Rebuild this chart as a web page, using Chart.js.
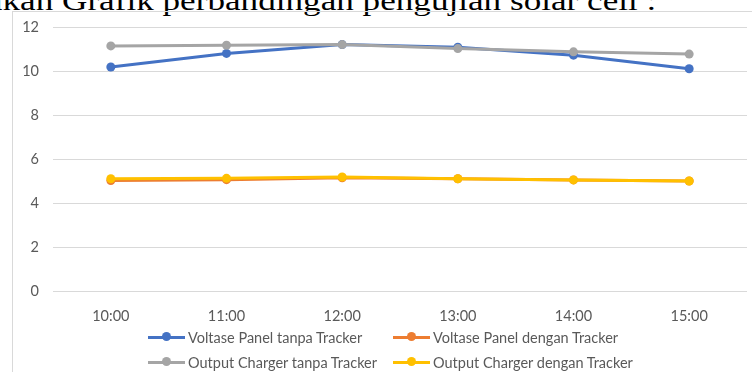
<!DOCTYPE html>
<html>
<head>
<meta charset="utf-8">
<script src="https://cdn.jsdelivr.net/npm/chart.js@4"></script>
<style>
  body { margin: 0; background: #fff; width: 752px; height: 372px; overflow: hidden; position: relative; }
  .caption { position: absolute; left: 62px; top: -13px; font-family: "Liberation Serif", serif; font-size: 28px; line-height: 1; color: #000; white-space: nowrap; transform-origin: 0 0; }
  .caption .pre { position: absolute; right: 100%; white-space: pre; }
  .frame { position: absolute; left: 12px; top: 11px; width: 800px; height: 400px; border: 1px solid #d9d9d9; }
  #chart { position: absolute; left: 0; top: 0; }
  #legend { position: absolute; left: 148px; top: 325px; display: grid; grid-template-columns: 245px 245px; row-gap: 1px; font-family: Lato, sans-serif; font-size: 14.5px; color: #595959; }
  #legend .item { display: flex; align-items: center; height: 24px; white-space: nowrap; }
  #legend .mark { position: relative; width: 37px; height: 10px; margin-right: 3px; }
  #legend .mark .ln { position: absolute; left: 0; right: 0; top: 3.5px; height: 3px; }
  #legend .mark .dot { position: absolute; left: 14px; top: 0; width: 9px; height: 9px; border-radius: 50%; }
</style>
</head>
<body>
<div class="caption" id="caption"><span class="pre">Berikut merupakan </span>Grafik perbandingan pengujian solar cell :</div>
<div class="frame"></div>
<canvas id="chart" width="752" height="372"></canvas>
<div id="legend"></div>
<script>
const hours = ['10:00', '11:00', '12:00', '13:00', '14:00', '15:00'];

const panelTanpa = [10.18, 10.8, 11.2, 11.08, 10.72, 10.1];
const panelDengan = [5.02, 5.06, 5.15, 5.1, 5.05, 5.0];
const chargerTanpa = [11.14, 11.17, 11.2, 11.02, 10.87, 10.77];
const chargerDengan = [5.1, 5.12, 5.18, 5.1, 5.05, 5.0];

const seriesNames = [
  'Voltase Panel tanpa Tracker',
  'Voltase Panel dengan Tracker',
  'Output Charger tanpa Tracker',
  'Output Charger dengan Tracker'
];
const seriesColors = ['#4472c4', '#ed7d31', '#a5a5a5', '#ffc000'];

const yTicks = [0, 2, 4, 6, 8, 10, 12];

// stretch the caption so it covers the same width as in the document
const caption = document.getElementById('caption');
caption.style.transform = 'scaleX(' + (595 / caption.offsetWidth) + ')';

function makeSet(i, values) {
  return {
    label: seriesNames[i],
    data: values,
    borderColor: seriesColors[i],
    backgroundColor: seriesColors[i],
    borderWidth: 3,
    pointRadius: 4.5,
    pointHoverRadius: 4.5,
    pointBorderWidth: 0,
    tension: 0,
    order: 4 - i
  };
}

const tickFont = { family: 'Lato, sans-serif', size: 14.5 };

const chart = new Chart(document.getElementById('chart'), {
  type: 'line',
  data: {
    labels: hours,
    datasets: [
      makeSet(0, panelTanpa),
      makeSet(1, panelDengan),
      makeSet(2, chargerTanpa),
      makeSet(3, chargerDengan)
    ]
  },
  options: {
    responsive: false,
    animation: false,
    devicePixelRatio: 1,
    layout: { padding: { left: 12, right: 5, top: 27, bottom: 51 } },
    plugins: {
      legend: { display: false },
      tooltip: { enabled: false }
    },
    scales: {
      x: {
        offset: true,
        grid: { display: false },
        border: { display: false },
        ticks: { color: '#595959', font: tickFont, padding: 9, maxRotation: 0 },
        afterFit: s => { s.height = 30; }
      },
      y: {
        min: yTicks[0],
        max: yTicks[yTicks.length - 1],
        afterBuildTicks: s => { s.ticks = yTicks.map(v => ({ value: v })); },
        grid: { color: '#d9d9d9', lineWidth: 1, drawTicks: false },
        border: { display: false },
        ticks: { color: '#595959', font: tickFont, padding: 14 },
        afterFit: s => { s.width = 41; }
      }
    }
  }
});

// legend in html, two per row like the original
const legendBox = document.getElementById('legend');
chart.data.datasets.forEach(ds => {
  const item = document.createElement('div');
  item.className = 'item';
  item.innerHTML = '<span class="mark"><span class="ln" style="background:' + ds.borderColor + '"></span>' +
    '<span class="dot" style="background:' + ds.borderColor + '"></span></span>' + ds.label;
  legendBox.appendChild(item);
});
</script>
</body>
</html>
